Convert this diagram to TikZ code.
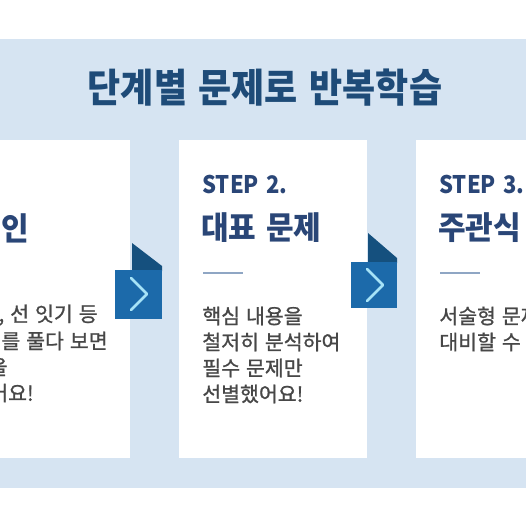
\documentclass[tikz,border=0pt]{standalone}
\usepackage{fontspec}
\setmainfont[WordSpace=1.4]{Noto Sans CJK KR}
\newfontfamily\krbody[WordSpace=1.3,FakeBold=1]{Noto Sans CJK KR}
\definecolor{bandblue}{HTML}{D6E4F2}
\definecolor{titlenavy}{HTML}{1E4B78}
\definecolor{stepnavy}{HTML}{2A4677}
\definecolor{bodygrey}{HTML}{474747}
\definecolor{boxblue}{HTML}{1C6AAA}
\definecolor{foldblue}{HTML}{15507E}
\definecolor{chevcyan}{HTML}{A6E3F7}
\definecolor{rulegrey}{HTML}{8FA6C4}

\tikzset{every picture/.style={line width=0.75pt}}

\begin{document}
\begin{tikzpicture}[x=1pt,y=1pt,yscale=-1,
  titletext/.style={inner sep=0pt,text=titlenavy,font=\fontsize{36}{40}\selectfont\bfseries},
  steplabel/.style={anchor=west,inner sep=0pt,text=stepnavy,font=\fontsize{22}{26}\selectfont\bfseries},
  headtext/.style={anchor=west,inner sep=0pt,text=stepnavy,font=\fontsize{30}{34}\selectfont\bfseries},
  bodytext/.style={anchor=west,inner sep=0pt,text=bodygrey,font=\fontsize{20.5}{26}\krbody},
  cardrule/.style={rulegrey,line width=1.5pt},
  chevron/.style={chevcyan,line width=2.6pt,line cap=round,line join=round}]
\useasboundingbox (0,0) rectangle (526,526);
\clip (0,0) rectangle (526,526);

%Background band
\fill [bandblue] (0,39) rectangle (526,488);

%Cards
\fill [white] (-120,140) rectangle (130,458);
\fill [white] (179,140) rectangle (367,458);
\fill [white] (416,140) rectangle (640,458);

%Title
\node [titletext] (title) at (265,88) {\scalebox{1}[1.1]{단계별 문제로 반복학습}};

%Card 1 (cut at the left edge)
\node [headtext,anchor=east] (head1) at (29,228) {\scalebox{1}[1.06]{개념 확인}};
\node [bodytext,anchor=east] (body1a) at (98,315) {빈칸 채우기, 선 잇기 등};
\node [bodytext,anchor=east] (body1b) at (108,341) {다양한 문제를 풀다 보면};
\node [bodytext,anchor=east] (body1c) at (8,367) {개념을};
\node [bodytext,anchor=east] (body1d) at (34,393) {익힐 수 있어요!};

%Card 2
\node [steplabel] (step2) at (202,184) {\scalebox{1}[1.1]{STEP 2.}};
\node [headtext] (head2) at (201,228) {\scalebox{1}[1.06]{대표 문제}};
\coordinate (rule2a) at (203,273);
\coordinate (rule2b) at (243,273);
\draw [cardrule] (rule2a) -- (rule2b);
\node [bodytext] (body2a) at (202,316) {핵심 내용을};
\node [bodytext] (body2b) at (202,342) {철저히 분석하여};
\node [bodytext] (body2c) at (202,368) {필수 문제만};
\node [bodytext] (body2d) at (202,394) {선별했어요!};

%Card 3 (cut at the right edge)
\node [steplabel] (step3) at (439,184) {\scalebox{1}[1.1]{STEP 3.}};
\node [headtext] (head3) at (438,228) {\scalebox{1}[1.06]{주관식 문제}};
\coordinate (rule3a) at (440,273);
\coordinate (rule3b) at (480,273);
\draw [cardrule] (rule3a) -- (rule3b);
\node [bodytext] (body3a) at (439,316) {서술형 문제를 통해};
\node [bodytext] (body3b) at (439,342) {대비할 수 있어요!};

%Arrow 1
\fill [foldblue] (132,243) -- (162,266) -- (162,271) -- (132,271) -- cycle;
\fill [boxblue] (115,270) rectangle (162,319);
\draw [chevron] (131,278) -- (147,294) -- (131,310);

%Arrow 2
\fill [foldblue] (368,233) -- (397,258) -- (397,263) -- (368,263) -- cycle;
\fill [boxblue] (351,262) rectangle (397,308);
\draw [chevron] (367,269) -- (383,285) -- (367,301);

\end{tikzpicture}
\end{document}
